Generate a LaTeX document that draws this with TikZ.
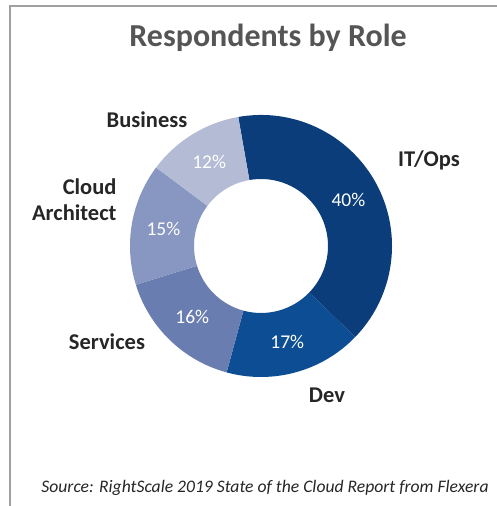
\documentclass[tikz,border=0pt]{standalone}
\usepackage{fontspec}
\setmainfont{Carlito}
\usepackage{tikz}
\usetikzlibrary{positioning}

\definecolor{itblue}{HTML}{0A3D7A}
\definecolor{devblue}{HTML}{0C4D93}
\definecolor{svcblue}{HTML}{6A7DB0}
\definecolor{cloudblue}{HTML}{8896C2}
\definecolor{bizblue}{HTML}{B3BBD5}
\definecolor{titlegray}{HTML}{555555}
\definecolor{labelgray}{HTML}{262626}
\definecolor{framegray}{HTML}{A0A0A0}

\begin{document}
\begin{tikzpicture}[x=1pt,y=1pt,
  lbl/.style={font=\fontsize{22.5}{26}\selectfont\bfseries,text=labelgray},
  pct/.style={font=\fontsize{19.5}{21}\selectfont,text=white}]

  \useasboundingbox (0,0) rectangle (497,506);

  % frame: only top and left edges show
  \draw[framegray,line width=1.5pt] (10,0) -- (10,500) -- (497,500);

  % title
  \node[font=\fontsize{32}{34}\selectfont\bfseries,text=titlegray] (title)
    at (268,468) {Respondents by Role};

  % donut, clockwise from the top
  \begin{scope}[shift={(261,260)}]
    \foreach \a/\b/\col/\val/\nm in {
      100/-44/itblue/40/it, -44/-105.2/devblue/17/dev,
      -105.2/-162.8/svcblue/16/svc, -162.8/-216.8/cloudblue/15/cloud,
      -216.8/-260/bizblue/12/biz
    }{
      \fill[\col] (\a:131) arc[start angle=\a,end angle=\b,radius=131]
        -- (\b:67) arc[start angle=\b,end angle=\a,radius=67] -- cycle;
      \node[pct] (p\nm) at ({(\a+\b)/2}:99) {\val\%};
    }
  \end{scope}

  % category labels
  \node[lbl] (itops) at (429,346) {IT/Ops};
  \node[lbl] (dev) at (327,111) {Dev};
  \node[lbl] (services) at (107,164) {Services};
  \node[lbl,align=right,anchor=east] (cloud) at (120,306) {Cloud\\Architect};
  \node[lbl] (business) at (147,386) {Business};

  % source line
  \node[font=\fontsize{17.6}{19}\selectfont\itshape,text=labelgray] (source)
    at (265,18) {Source: RightScale 2019 State of the Cloud Report from Flexera};

\end{tikzpicture}
\end{document}
